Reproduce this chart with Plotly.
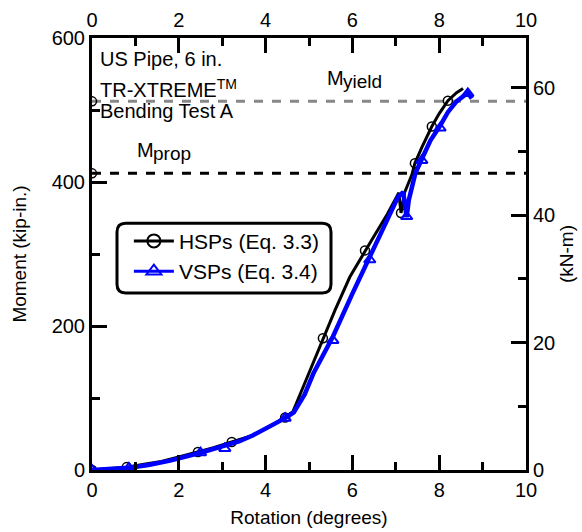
import plotly.graph_objects as go

# ---------------- data ----------------
hsp_rot = [0, 0.4, 0.8, 1.2, 1.6, 2.0, 2.44, 2.8, 3.22, 3.7, 4.1, 4.4, 4.63, 4.87, 5.1, 5.32, 5.6,
           5.94, 6.29, 6.47, 6.8, 7.07, 7.12, 7.2, 7.37, 7.44, 7.6, 7.83, 8.0, 8.2, 8.4, 8.55]
hsp_mom = [0, 2, 4, 8, 12, 18, 25, 31, 39, 48, 60, 72, 81, 116, 150, 183, 222,
           268, 305, 322, 355, 385, 357, 385, 410, 426, 448, 477, 495, 513, 524, 530]
hsp_mk_rot = [0, 0.8, 2.44, 3.22, 4.45, 5.32, 6.29, 7.12, 7.44, 7.83, 8.2]
hsp_mk_mom = [0, 4, 25, 39, 73, 183, 305, 357, 426, 477, 513]

vsp_rot = [0, 0.4, 0.85, 1.3, 1.8, 2.5, 3.06, 3.4, 3.7, 4.1, 4.45, 4.65, 4.9, 5.1, 5.55, 6.0, 6.4,
           6.7, 7.05, 7.17, 7.25, 7.3, 7.45, 7.6, 7.8, 8.02, 8.2, 8.4, 8.55, 8.66, 8.75]
vsp_mom = [0, 1, 3, 7, 13, 24, 33, 40, 48, 60, 72, 80, 105, 134, 185, 245, 295,
           335, 379, 386, 351, 375, 412, 432, 458, 478, 497, 512, 520, 524, 516]
vsp_mk_rot = [0, 0.85, 2.5, 3.06, 4.45, 5.55, 6.4, 7.25, 7.6, 8.02, 8.66]
vsp_mk_mom = [0, 3, 24, 30, 72, 180, 292, 352, 430, 475, 523]

m_yield = 512
m_prop = 412
x_range = [0, 10]
y_range = [0, 600]
kipin_to_knm = 0.112985
x_ticks = [0, 2, 4, 6, 8, 10]
y_ticks = [0, 200, 400, 600]
y2_ticks = [0, 20, 40, 60]

FONT = "Liberation Sans, Arial, sans-serif"
BLUE = "#0000ff"

fig = go.Figure()

# reference lines
fig.add_trace(go.Scatter(x=x_range, y=[m_yield, m_yield], mode="lines",
                         line=dict(color="#888888", width=3, dash="dash"), showlegend=False))
fig.add_trace(go.Scatter(x=x_range, y=[m_prop, m_prop], mode="lines",
                         line=dict(color="black", width=3, dash="dash"), showlegend=False))
fig.add_trace(go.Scatter(x=[0, 0], y=[m_yield, m_prop], mode="markers",
                         marker=dict(symbol="circle-open", size=9, color="black", line=dict(width=1.5)),
                         showlegend=False))

# HSP
fig.add_trace(go.Scatter(x=hsp_rot, y=hsp_mom, mode="lines",
                         line=dict(color="black", width=3), showlegend=False))
fig.add_trace(go.Scatter(x=hsp_mk_rot, y=hsp_mk_mom, mode="markers",
                         marker=dict(symbol="circle-open", size=9, color="black", line=dict(width=1.5)),
                         showlegend=False))
# VSP
fig.add_trace(go.Scatter(x=vsp_rot, y=vsp_mom, mode="lines",
                         line=dict(color=BLUE, width=4.5), showlegend=False))
fig.add_trace(go.Scatter(x=vsp_mk_rot, y=vsp_mk_mom, mode="markers",
                         marker=dict(symbol="triangle-up-open", size=10, color=BLUE, line=dict(width=2)),
                         showlegend=False))

# legend entries
fig.add_trace(go.Scatter(x=[None], y=[None], mode="lines+markers", name="HSPs (Eq. 3.3)",
                         line=dict(color="black", width=3),
                         marker=dict(symbol="circle-open", size=13, color="black", line=dict(width=2))))
fig.add_trace(go.Scatter(x=[None], y=[None], mode="lines+markers", name="VSPs (Eq. 3.4)",
                         line=dict(color=BLUE, width=3),
                         marker=dict(symbol="triangle-up-open", size=13, color=BLUE, line=dict(width=2))))

# dummy for secondary axes
fig.add_trace(go.Scatter(x=[None], y=[None], xaxis="x2", yaxis="y2", showlegend=False))

axis_common = dict(showline=True, linewidth=3, linecolor="black", ticks="inside",
                   tickwidth=3, tickcolor="black", showgrid=False, zeroline=False,
                   automargin=False,
                   tickfont=dict(family=FONT, size=20, color="black"))

fig.update_layout(
    width=582, height=532,
    margin=dict(l=92, r=56, t=38, b=62),
    plot_bgcolor="white", paper_bgcolor="white",
    font=dict(family=FONT, color="black"),
    xaxis=dict(range=x_range, tickvals=x_ticks, ticklen=15,
               minor=dict(dtick=1, ticks="inside", ticklen=8, tickwidth=3, tickcolor="black"),
               title=dict(text="Rotation (degrees)", font=dict(family=FONT, size=19), standoff=11),
               **axis_common),
    xaxis2=dict(range=x_range, tickvals=x_ticks, ticklen=15, overlaying="x", side="top",
                anchor="y",
                minor=dict(dtick=1, ticks="inside", ticklen=8, tickwidth=3, tickcolor="black"),
                **axis_common),
    yaxis=dict(range=y_range, tickvals=y_ticks, ticklen=15,
               minor=dict(dtick=100, ticks="inside", ticklen=8, tickwidth=3, tickcolor="black"),
               title=dict(text="Moment (kip-in.)", font=dict(family=FONT, size=19), standoff=20),
               **axis_common),
    yaxis2=dict(range=[y_range[0] * kipin_to_knm, y_range[1] * kipin_to_knm], tickvals=y2_ticks,
                ticklen=15, overlaying="y", side="right", anchor="x",
                minor=dict(dtick=10, ticks="inside", ticklen=8, tickwidth=3, tickcolor="black"),
                title=dict(text="(kN-m)", font=dict(family=FONT, size=19), standoff=6),
                **axis_common),
    legend=dict(x=0.085, y=0.577, xanchor="left", yanchor="top", itemwidth=40,
                bgcolor="rgba(0,0,0,0)", borderwidth=0,
                font=dict(family=FONT, size=21, color="black"), tracegroupgap=0),
    showlegend=True,
)

# rounded legend frame
x0, x1, y0, y1 = 0.0576, 0.5507, 0.410, 0.571
rx, ry = 0.02, 0.02
path = (f"M{x0+rx},{y1} L{x1-rx},{y1} Q{x1},{y1} {x1},{y1-ry} L{x1},{y0+ry} Q{x1},{y0} {x1-rx},{y0} "
        f"L{x0+rx},{y0} Q{x0},{y0} {x0},{y0+ry} L{x0},{y1-ry} Q{x0},{y1} {x0+rx},{y1} Z")
fig.add_shape(type="path", path=path, xref="paper", yref="paper",
              line=dict(color="black", width=3), fillcolor="white", layer="above")

ann_font = dict(family=FONT, size=20, color="black")
sub_font = dict(family=FONT, size=19, color="black")
fig.add_annotation(x=0.14, y=571, xref="x", yref="y", text="US Pipe, 6 in.", showarrow=False,
                   xanchor="left", yanchor="middle", font=ann_font)
fig.add_annotation(x=0.14, y=530, xref="x", yref="y", text="TR-XTREME<sup>TM</sup>", showarrow=False,
                   xanchor="left", yanchor="middle", font=ann_font)
fig.add_annotation(x=0.14, y=499, xref="x", yref="y", text="Bending Test A", showarrow=False,
                   xanchor="left", yanchor="middle", font=ann_font)
# M_yield
fig.add_annotation(x=5.37, y=544, xref="x", yref="y", text="M", showarrow=False,
                   xanchor="left", yanchor="middle", font=ann_font)
fig.add_annotation(x=5.74, y=540, xref="x", yref="y", text="yield", showarrow=False,
                   xanchor="left", yanchor="middle", font=sub_font)
# M_prop
fig.add_annotation(x=0.98, y=444, xref="x", yref="y", text="M", showarrow=False,
                   xanchor="left", yanchor="middle", font=ann_font)
fig.add_annotation(x=1.35, y=440, xref="x", yref="y", text="prop", showarrow=False,
                   xanchor="left", yanchor="middle", font=sub_font)

fig.write_html("out.html")
